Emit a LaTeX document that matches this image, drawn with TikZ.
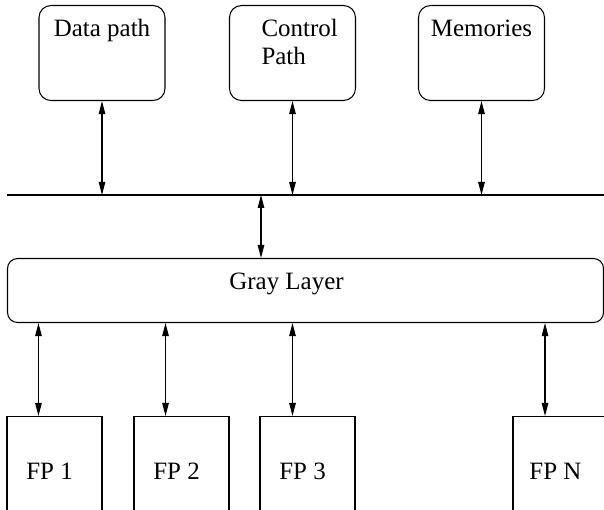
\documentclass[tikz,border=0pt]{standalone}
\usepackage{fontspec}
\setmainfont{Liberation Serif}
\usepackage{tikz}
\usetikzlibrary{arrows.meta}

\begin{document}
\begin{tikzpicture}[
	font=\fontsize{14.2}{16}\selectfont,
	line width=0.6pt,
	link/.style={{Triangle[length=0.26cm,width=0.13cm]}-{Triangle[length=0.26cm,width=0.13cm]}},
	unit/.style={draw, rounded corners=0.24cm, minimum width=2.52cm, minimum height=1.9cm, anchor=north},
	layer/.style={draw, rounded corners=0.2cm, minimum width=11.92cm, minimum height=1.28cm, anchor=north west},
	fpbox/.style={draw, minimum width=1.9cm, minimum height=2.4cm, anchor=north},
	txt/.style={anchor=base, inner sep=0pt}]
	\useasboundingbox (0,0) rectangle (12.08,10.2);

	% units on top
	\node[unit, label={[txt, yshift=-0.64cm]north:Data path}] (dp) at (2.04,10.1) {};
	\node[unit, label={[txt, anchor=base west, align=left, xshift=-0.63cm, yshift=-1.2cm]north:Control\\Path}] (cp) at (5.85,10.1) {};
	\node[unit, label={[txt, yshift=-0.64cm]north:Memories}] (mem) at (9.63,10.1) {};

	% bus
	\coordinate (busL) at (0.14,6.3);
	\coordinate (busR) at (12.08,6.3);
	\draw (busL) -- (busR);
	\foreach \n in {dp,cp,mem}
		\draw[link] (\n.south) -- (\n.south |- busL);

	\node[layer, label={[txt, xshift=-0.38cm, yshift=-0.64cm]north:Gray Layer}] (gray) at (0.14,5.04) {};
	\coordinate (tap) at (5.22,6.3);
	\draw[link] (tap) -- (tap |- gray.north);

	% functional processors
	\node[fpbox, label={[txt, xshift=-0.1cm, yshift=-1.28cm]north:FP 1}] (fp1) at (1.09,1.88) {};
	\node[fpbox, label={[txt, xshift=-0.1cm, yshift=-1.28cm]north:FP 2}] (fp2) at (3.63,1.88) {};
	\node[fpbox, label={[txt, xshift=-0.1cm, yshift=-1.28cm]north:FP 3}] (fp3) at (6.15,1.88) {};
	\node[fpbox, label={[txt, xshift=-0.1cm, yshift=-1.28cm]north:FP N}] (fpn) at (11.21,1.88) {};

	\draw[link] (gray.south -| dp.west) -- (fp1.north -| dp.west);
	\draw[link] (gray.south -| dp.east) -- (fp2.north -| dp.east);
	\draw[link] (gray.south -| cp.south) -- (fp3.north -| cp.south);
	\draw[link] (gray.south -| mem.east) -- (fpn.north -| mem.east);
\end{tikzpicture}
\end{document}
